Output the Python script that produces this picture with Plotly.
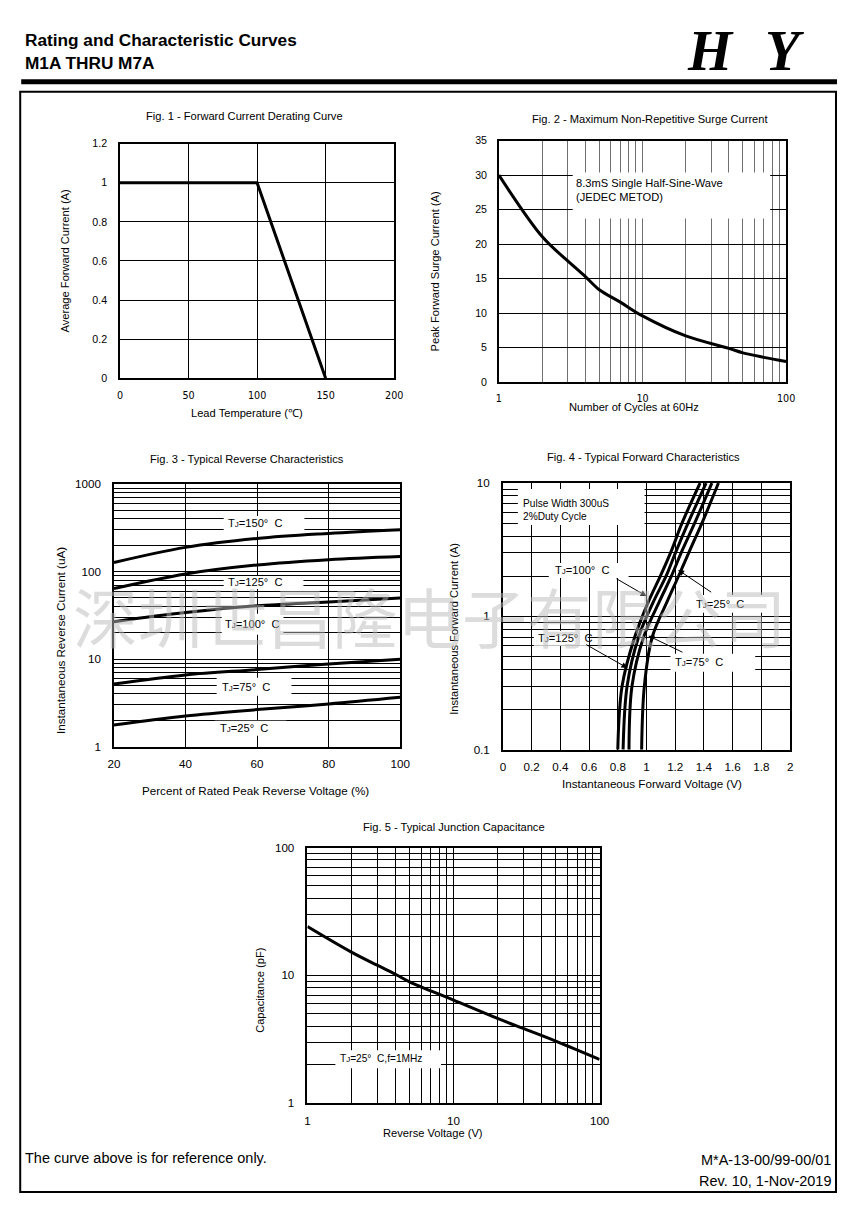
import math
import plotly.graph_objects as go

# figure drawn inside the default 8px page margin so the page fits the 855x1208 window
OFF = 8
FW, FH = 855 - 2 * OFF, 1208 - 2 * OFF
# measured mapping from page pixels to the photographed picture (compensated here)
A_X, B_X = 0.9836, 3.9
A_Y, B_Y = 0.9906, 5.3
def px(x): return ((x - B_X) / A_X - OFF) / FW
def py(y): return 1 - ((y - B_Y) / A_Y - OFF) / FH
FS = 1 / 0.987

FONT = "Liberation Sans, Arial, sans-serif"
WIDEF = "DejaVu Sans, sans-serif"
NARROW = "Liberation Sans Narrow, Arial Narrow, Liberation Sans, Arial, sans-serif"

# ---------------- data ----------------
# Fig 1 - Forward current derating
f1_temp = [0, 100, 150]
f1_current = [1.0, 1.0, 0.0]
f1_xticks = [0, 50, 100, 150, 200]
f1_yticks = [0, 0.2, 0.4, 0.6, 0.8, 1.0, 1.2]
f1_ylabels = ["0", "0.2", "0.4", "0.6", "0.8", "1", "1.2"]

# Fig 2 - Surge current
f2_cycles = [1, 2, 3, 4, 5, 7, 10, 20, 40, 50, 70, 100]
f2_current = [30, 21.1, 17.6, 15.3, 13.4, 11.6, 9.6, 6.7, 4.9, 4.25, 3.6, 3.0]
f2_xlabels = ["1", "10", "100"]
f2_yticks = [0, 5, 10, 15, 20, 25, 30, 35]

# Fig 3 - Reverse characteristics
f3_pct = [20, 40, 60, 80, 100]
ir_150 = [127, 189, 239, 273, 301]
ir_125 = [64, 94, 119, 137, 149]
ir_100 = [26.8, 34, 40.7, 45, 49.9]
ir_75 = [5.2, 6.6, 7.6, 8.8, 10.0]
ir_25 = [1.77, 2.24, 2.65, 3.07, 3.66]
f3_xticks = [20, 40, 60, 80, 100]
f3_ylabels = ["1", "10", "100", "1000"]

# Fig 4 - Forward characteristics
f4_current = [0.1, 0.3, 0.7, 1.3, 2.0, 3.1, 5.0, 10]
vf_125 = [0.80, 0.83, 0.918, 1.015, 1.096, 1.173, 1.247, 1.373]
vf_100 = [0.837, 0.865, 0.945, 1.050, 1.136, 1.207, 1.289, 1.415]
vf_75 = [0.878, 0.899, 0.980, 1.091, 1.173, 1.247, 1.335, 1.455]
vf_25 = [0.966, 0.985, 1.040, 1.145, 1.223, 1.300, 1.386, 1.501]
f4_xticks = [0, 0.2, 0.4, 0.6, 0.8, 1.0, 1.2, 1.4, 1.6, 1.8, 2.0]
f4_xlabels = ["0", "0.2", "0.4", "0.6", "0.8", "1", "1.2", "1.4", "1.6", "1.8", "2"]
f4_ylabels = ["0.1", "1", "10"]

# Fig 5 - Junction capacitance
f5_v = [1, 2, 3, 4, 5, 10, 20, 30, 50, 100]
f5_c = [24.1, 15.2, 12.0, 10.2, 8.9, 6.4, 4.6, 3.84, 3.06, 2.2]
f5_labels = ["1", "10", "100"]


def log_grid(decades_start, decades_end, labels):
    vals, txt = [], []
    li = 0
    for d in range(decades_start, decades_end):
        base = 10 ** d
        for m in range(1, 10):
            vals.append(base * m)
            if m == 1:
                txt.append(labels[li])
                li += 1
            else:
                txt.append("")
    vals.append(10 ** decades_end)
    txt.append(labels[li])
    return vals, txt


fig = go.Figure()
LW = 3
fig.add_trace(go.Scatter(x=f1_temp, y=f1_current, mode="lines",
                         line=dict(color="black", width=LW), xaxis="x", yaxis="y"))
fig.add_trace(go.Scatter(x=f2_cycles, y=f2_current, mode="lines", line_shape="spline",
                         line=dict(color="black", width=LW), xaxis="x2", yaxis="y2"))
for s in [ir_150, ir_125, ir_100, ir_75, ir_25]:
    fig.add_trace(go.Scatter(x=f3_pct, y=s, mode="lines", line_shape="spline",
                             line=dict(color="black", width=LW), xaxis="x3", yaxis="y3"))
for s in [vf_125, vf_100, vf_75, vf_25]:
    fig.add_trace(go.Scatter(x=s, y=f4_current, mode="lines", line_shape="spline",
                             line=dict(color="black", width=LW), xaxis="x4", yaxis="y4"))
fig.add_trace(go.Scatter(x=f5_v, y=f5_c, mode="lines", line_shape="spline",
                         line=dict(color="black", width=LW), xaxis="x5", yaxis="y5"))


def ax(domain, anchor, standoff, size, family=FONT, **kw):
    d = dict(domain=domain, anchor=anchor, showline=True, linecolor="black", linewidth=1.5,
             mirror=True, showgrid=True, gridcolor="black", gridwidth=1, zeroline=False,
             ticks="outside", ticklen=standoff, tickcolor="rgba(0,0,0,0)",
             tickfont=dict(family=family, size=size * FS, color="black"), tickmode="array")
    d.update(kw)
    return d

f2x_vals, f2x_txt = log_grid(0, 2, f2_xlabels)
f3y_vals, f3y_txt = log_grid(0, 3, f3_ylabels)
f4y_vals, f4y_txt = log_grid(-1, 1, f4_ylabels)
f5x_vals, f5x_txt = log_grid(0, 2, f5_labels)
f5y_vals, f5y_txt = log_grid(0, 2, f5_labels)

fig.update_layout(
    xaxis=ax([px(118), px(393)], "y", 7, 9.5, WIDEF, range=[0, 200], tickvals=f1_xticks),
    yaxis=ax([py(377), py(142)], "x", 9, 10.5, range=[0, 1.2], tickvals=f1_yticks, ticktext=f1_ylabels),
    xaxis2=ax([px(498), px(786)], "y2", 6, 9.5, WIDEF, type="log", range=[0, 2],
              tickvals=f2x_vals, ticktext=f2x_txt, gridcolor="#707070", gridwidth=1.2),
    yaxis2=ax([py(381), py(139)], "x2", 8, 10.5, range=[0, 35], tickvals=f2_yticks),
    xaxis3=ax([px(112), px(399)], "y3", 6, 11.5, range=[20, 100], tickvals=f3_xticks),
    yaxis3=ax([py(746), py(483)], "x3", 9, 11.5, type="log", range=[0, 3],
              tickvals=f3y_vals, ticktext=f3y_txt),
    xaxis4=ax([px(502), px(790)], "y4", 6, 11.5, range=[0, 2], tickvals=f4_xticks, ticktext=f4_xlabels),
    yaxis4=ax([py(749), py(482)], "x4", 9, 11.5, type="log", range=[-1, 1],
              tickvals=f4y_vals, ticktext=f4y_txt),
    xaxis5=ax([px(306), px(599)], "y5", 6, 11.5, type="log", range=[0, 2],
              tickvals=f5x_vals, ticktext=f5x_txt),
    yaxis5=ax([py(1103), py(847)], "x5", 9, 11.5, type="log", range=[0, 2],
              tickvals=f5y_vals, ticktext=f5y_txt),
)

shapes = []
# page frame
shapes.append(dict(type="line", xref="paper", yref="paper", x0=px(19), x1=px(837), y0=py(80), y1=py(80),
                   line=dict(color="black", width=5), layer="above"))
shapes.append(dict(type="rect", xref="paper", yref="paper", x0=px(18), x1=px(836), y0=py(1192), y1=py(90),
                   line=dict(color="black", width=2), layer="below"))
# white label boxes (pixel rectangles)
boxes = [
    (572, 171, 770, 217),   # fig2
    (222, 515, 303, 530),   # fig3 150
    (222, 575, 302, 588),   # fig3 125
    (220, 613, 282, 634),   # fig3 100
    (215, 677, 290, 695),   # fig3 75
    (213, 720, 285, 735),   # fig3 25
    (517, 488, 644, 524),   # fig4 pulse
    (548, 562, 628, 577),   # fig4 100
    (688, 594, 773, 612),   # fig4 25
    (533, 630, 587, 645),   # fig4 125
    (670, 653, 755, 671),   # fig4 75
    (334, 1050, 440, 1068), # fig5
]
for (x0, y0, x1, y1) in boxes:
    shapes.append(dict(type="rect", xref="paper", yref="paper", x0=px(x0), x1=px(x1), y0=py(y1), y1=py(y0),
                       fillcolor="white", line=dict(width=0), layer="above"))
fig.update_layout(shapes=shapes)

anns = []
def T(text, x, y, size=11, xanchor="center", yanchor="middle", family=FONT, textangle=0, color="black", **kw):
    anns.append(dict(text=text, x=px(x), y=py(y), xref="paper", yref="paper", showarrow=False,
                     xanchor=xanchor, yanchor=yanchor, textangle=textangle,
                     font=dict(family=family, size=size * FS, color=color), **kw))

# header
T("<b>Rating and Characteristic Curves</b>", 21, 38, 17, xanchor="left", family=NARROW)
T("<b>M1A THRU M7A</b>", 21, 61, 17, xanchor="left", family=NARROW)
T("<b><i>H</i></b>", 710, 49, 56, family="Liberation Serif, serif")
T("<b><i>Y</i></b>", 784, 49, 56, family="Liberation Serif, serif")

# footer
T("The curve above is for reference only.", 21, 1158, 14.3, xanchor="left", family=NARROW)
T("M*A-13-00/99-00/01", 833, 1160, 14.3, xanchor="right", family=NARROW)
T("Rev. 10, 1-Nov-2019", 833, 1181, 14.3, xanchor="right", family=NARROW)

# titles
T("Fig. 1 - Forward Current Derating Curve", 243, 114, 11)
T("Fig. 2 - Maximum Non-Repetitive Surge Current", 650, 117, 11)
T("Fig. 3 - Typical Reverse Characteristics", 245, 458, 11)
T("Fig. 4 - Typical Forward Characteristics", 643, 456, 11)
T("Fig. 5 - Typical Junction Capacitance", 453, 826, 11)

# axis titles
T("Average Forward Current (A)", 63, 259, 11, textangle=-90)
T("Lead Temperature (\u2103)", 245, 412, 11)
T("Peak Forward Surge Current (A)", 434, 270, 11, textangle=-90)
T("Number of Cycles at 60Hz", 633, 406, 11)
T("Instantaneous Reverse Current (uA)", 59, 640, 11.5, textangle=-90)
T("Percent of Rated Peak Reverse Voltage (%)", 254, 790, 11.5)
T("Instantaneous Forward Current (A)", 453, 628, 11, textangle=-90)
T("Instantaneous Forward Voltage (V)", 652, 783, 11.5)
T("Capacitance (pF)", 259, 990, 11, textangle=-90)
T("Reverse Voltage (V)", 432, 1133, 11)

# in-plot labels
def tj(t):
    return "T<span style='font-size:8px'>J</span>=" + t + "°\u00a0\u00a0C"

T("8.3mS Single Half-Sine-Wave<br>(JEDEC METOD)", 573, 188, 11, xanchor="left", align="left")
T(tj("150"), 254, 522, 11)
T(tj("125"), 254, 581, 11)
T(tj("100"), 251, 623, 11)
T(tj("75"), 244, 686, 11)
T(tj("25"), 242, 727, 11)
T("Pulse Width 300uS<br>2%Duty Cycle", 520, 509, 10, xanchor="left", align="left")
T(tj("100"), 582, 569, 11)
T(tj("25"), 720, 603, 11)
T(tj("125"), 565, 637, 11)
T(tj("75"), 699, 661, 11)
T(tj("25") + ",f=1MHz", 380, 1058, 10)

# arrows in fig 4 (tips in data coordinates, log10 for y)
arrows = [
    (1.00, 1.42, -31, -18),
    (1.22, 2.23, 34, 23),
    (0.867, 0.41, -42, -24),
    (1.013, 0.715, 35, 17),
]
for (vx, iy, dx, dy) in arrows:
    anns.append(dict(x=vx, y=math.log10(iy), xref="x4", yref="y4", text="", showarrow=True,
                     ax=dx / A_X, ay=dy / A_Y, arrowhead=2, arrowsize=1.2, arrowwidth=1,
                     arrowcolor="black"))

# watermark
T("深圳世昌隆电子有限公司", 428, 614, 64, family="Noto Sans CJK SC, sans-serif",
  color="rgba(185,185,185,0.5)")

fig.update_layout(annotations=anns)

fig.update_layout(width=FW, height=FH, margin=dict(l=0, r=0, t=0, b=0),
                  paper_bgcolor="white", plot_bgcolor="white", showlegend=False)

fig.write_html("out.html", config={"displayModeBar": False})
